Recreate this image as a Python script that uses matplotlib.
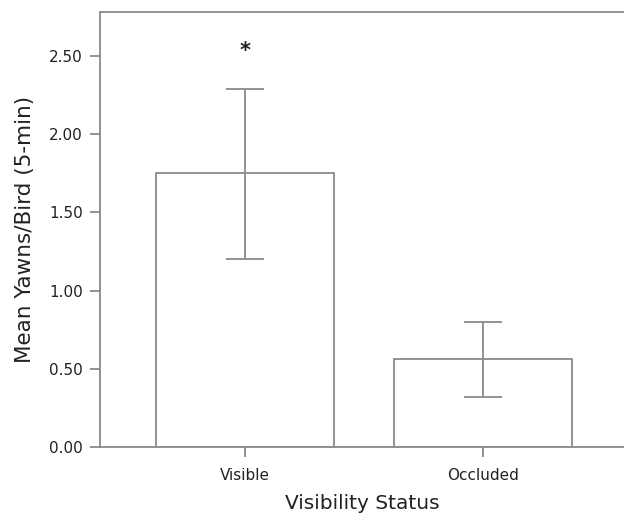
import matplotlib
matplotlib.use("Agg")
import matplotlib.pyplot as plt

categories = ["Visible", "Occluded"]
means = [1.75, 0.56]
err_low = [1.20, 0.32]
err_high = [2.29, 0.80]
yticks = [0.0, 0.5, 1.0, 1.5, 2.0, 2.5]
ytick_labels = ["0.00", "0.50", "1.00", "1.50", "2.00", "2.50"]

W, H = 624, 517
fig = plt.figure(figsize=(W/100, H/100), dpi=100)
ax = fig.add_axes([100/W, (H-447)/H, (W-100)/W, (447-12)/H])

gray = "#8a8a8a"
lw = 1.3
x = list(range(len(categories)))
yerr = [[m - l for m, l in zip(means, err_low)], [h - m for m, h in zip(means, err_high)]]
ax.bar(x, means, width=0.75, color="white", edgecolor=gray, linewidth=lw, zorder=2)
ax.errorbar(x, means, yerr=yerr, fmt="none", ecolor=gray, elinewidth=lw,
            capsize=13.5, capthick=lw, zorder=3)
ax.text(0, 2.53, "*", ha="center", va="center", fontsize=15, fontweight="bold",
        color="#222222")

ax.set_xlim(-0.609, 1.592)
ax.set_ylim(0, 2.78)
ax.set_xticks(x)
ax.set_xticklabels(categories, fontsize=11, color="#222222")
ax.set_yticks(yticks)
ax.set_yticklabels(ytick_labels, fontsize=11, color="#222222")
ax.tick_params(axis="y", direction="out", length=7.5, width=lw, color=gray, pad=5)
ax.tick_params(axis="x", direction="out", length=7, width=lw, color=gray, pad=8)
for s in ["left", "top", "bottom"]:
    ax.spines[s].set_color(gray)
    ax.spines[s].set_linewidth(lw)
ax.spines["right"].set_visible(False)
ax.set_xlabel("Visibility Status", fontsize=14.5, labelpad=8, color="#222222")
ax.set_ylabel("Mean Yawns/Bird (5-min)", fontsize=15.5, labelpad=10, color="#222222")

fig.savefig("out.png", dpi=100)
